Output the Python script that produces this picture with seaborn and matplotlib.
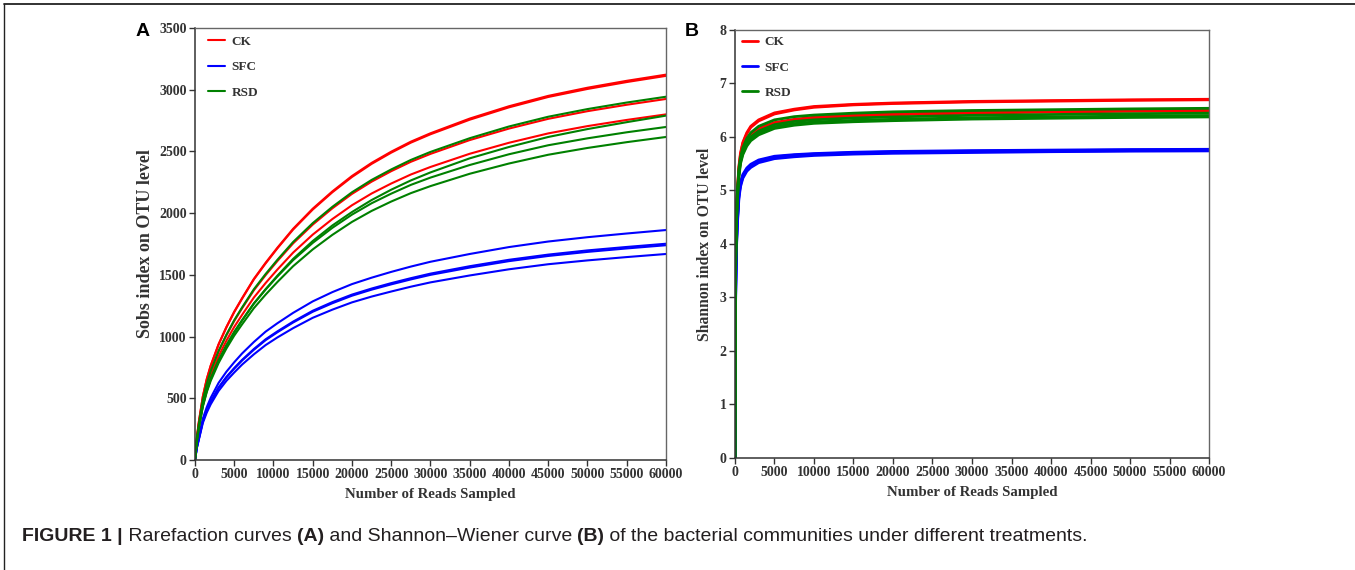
import numpy as np
import pandas as pd
import matplotlib
matplotlib.use("Agg")
import matplotlib.pyplot as plt
import seaborn as sns
from matplotlib.lines import Line2D

# ---------------- data ----------------
treatments = ["CK", "SFC", "RSD"]
colors = {"CK": "#FF0000", "SFC": "#0000FF", "RSD": "#008000"}

reads_a = [0, 250, 500, 1000, 1500, 2000, 3000, 4000, 5000, 6000, 7500, 9000, 10500, 12500, 15000,
           17500, 20000, 22500, 25000, 27500, 30000, 35000, 40000, 45000, 50000, 55000, 60000]
sobs_ck1 = [0, 187, 312, 515, 656, 765, 937, 1077, 1202, 1311, 1467, 1598, 1720, 1873, 2036,
            2176, 2301, 2407, 2498, 2579, 2647, 2766, 2866, 2950, 3016, 3072, 3122]
sobs_ck2 = [0, 187, 311, 513, 654, 762, 934, 1074, 1198, 1307, 1463, 1593, 1715, 1867, 2029,
            2169, 2293, 2399, 2490, 2571, 2639, 2757, 2857, 2941, 3006, 3062, 3112]
sobs_ck3 = [0, 176, 293, 483, 614, 717, 878, 1009, 1126, 1229, 1375, 1498, 1612, 1755, 1907,
            2039, 2156, 2255, 2340, 2416, 2480, 2592, 2685, 2764, 2826, 2878, 2925]
sobs_ck4 = [0, 168, 280, 462, 588, 686, 840, 966, 1078, 1176, 1316, 1434, 1543, 1680, 1826,
            1952, 2064, 2159, 2240, 2313, 2374, 2481, 2570, 2646, 2705, 2755, 2800]
sobs_sfc1 = [0, 112, 186, 335, 428, 503, 624, 715, 792, 863, 956, 1040, 1108, 1192, 1285,
             1360, 1425, 1477, 1524, 1567, 1606, 1669, 1725, 1770, 1805, 1835, 1863]
sobs_sfc2 = [0, 105, 175, 315, 403, 473, 587, 673, 745, 811, 899, 978, 1042, 1121, 1209,
             1279, 1340, 1389, 1433, 1473, 1510, 1570, 1622, 1664, 1698, 1726, 1752]
sobs_sfc3 = [0, 104, 174, 313, 400, 470, 583, 668, 740, 806, 893, 971, 1035, 1114, 1201,
             1270, 1331, 1380, 1423, 1463, 1500, 1559, 1611, 1653, 1686, 1714, 1740]
sobs_sfc4 = [0, 100, 167, 300, 384, 451, 559, 641, 709, 773, 856, 931, 993, 1068, 1152,
             1218, 1277, 1324, 1365, 1404, 1439, 1495, 1545, 1586, 1617, 1644, 1669]
sobs_rsd1 = [0, 177, 294, 486, 618, 721, 883, 1015, 1133, 1236, 1383, 1507, 1622, 1766, 1919,
             2051, 2169, 2269, 2354, 2431, 2496, 2607, 2702, 2781, 2843, 2896, 2943]
sobs_rsd2 = [0, 153, 265, 438, 558, 653, 801, 921, 1032, 1130, 1267, 1384, 1493, 1629, 1774,
             1900, 2009, 2106, 2190, 2265, 2330, 2444, 2536, 2617, 2681, 2737, 2790]
sobs_rsd3 = [0, 162, 270, 445, 567, 661, 809, 931, 1039, 1133, 1268, 1381, 1487, 1619, 1759,
             1881, 1988, 2080, 2158, 2229, 2288, 2390, 2477, 2550, 2606, 2655, 2698]
sobs_rsd4 = [0, 157, 262, 432, 550, 641, 785, 903, 1008, 1099, 1230, 1340, 1442, 1570, 1706,
             1824, 1929, 2018, 2094, 2162, 2219, 2319, 2402, 2473, 2528, 2575, 2617]

reads_b = [0, 50, 100, 200, 300, 500, 700, 1000, 1500, 2000, 3000, 5000, 7500, 10000, 15000,
           20000, 30000, 40000, 50000, 60000]
shan_ck1 = [0, 3.2, 3.9, 4.6, 5.0, 5.45, 5.7, 5.9, 6.08, 6.2, 6.32, 6.45, 6.52, 6.57, 6.61, 6.635, 6.665, 6.68, 6.695, 6.705]
shan_ck2 = [0, 3.15, 3.85, 4.55, 4.95, 5.42, 5.67, 5.88, 6.06, 6.18, 6.3, 6.43, 6.505, 6.555, 6.6, 6.625, 6.655, 6.67, 6.685, 6.695]
shan_ck3 = [0, 3.1, 3.8, 4.5, 4.9, 5.35, 5.58, 5.77, 5.93, 6.04, 6.16, 6.27, 6.33, 6.37, 6.41, 6.43, 6.46, 6.48, 6.495, 6.505]
shan_ck4 = [0, 3.05, 3.75, 4.45, 4.85, 5.32, 5.55, 5.74, 5.9, 6.01, 6.13, 6.25, 6.31, 6.35, 6.39, 6.415, 6.445, 6.465, 6.48, 6.49]
shan_sfc1 = [0, 2.6, 3.3, 4.1, 4.5, 4.95, 5.15, 5.3, 5.42, 5.49, 5.57, 5.64, 5.67, 5.69, 5.715, 5.73, 5.745, 5.755, 5.765, 5.77]
shan_sfc2 = [0, 2.55, 3.25, 4.05, 4.45, 4.92, 5.13, 5.28, 5.4, 5.47, 5.555, 5.625, 5.66, 5.68, 5.705, 5.72, 5.735, 5.745, 5.755, 5.76]
shan_sfc3 = [0, 2.5, 3.2, 4.0, 4.4, 4.9, 5.1, 5.26, 5.38, 5.45, 5.54, 5.61, 5.645, 5.67, 5.695, 5.71, 5.725, 5.735, 5.745, 5.75]
shan_sfc4 = [0, 2.45, 3.15, 3.95, 4.35, 4.85, 5.07, 5.23, 5.36, 5.43, 5.52, 5.595, 5.63, 5.655, 5.68, 5.695, 5.71, 5.725, 5.735, 5.74]
shan_rsd1 = [0, 3.1, 3.85, 4.55, 4.95, 5.4, 5.62, 5.8, 5.97, 6.08, 6.2, 6.32, 6.38, 6.41, 6.445, 6.47, 6.495, 6.51, 6.525, 6.536]
shan_rsd2 = [0, 3.0, 3.8, 4.5, 4.9, 5.35, 5.57, 5.74, 5.9, 6.0, 6.11, 6.23, 6.29, 6.32, 6.355, 6.375, 6.405, 6.42, 6.435, 6.445]
shan_rsd3 = [0, 3.0, 3.75, 4.45, 4.85, 5.3, 5.53, 5.7, 5.86, 5.96, 6.07, 6.19, 6.25, 6.28, 6.31, 6.33, 6.36, 6.375, 6.39, 6.40]
shan_rsd4 = [0, 2.95, 3.7, 4.4, 4.8, 5.25, 5.5, 5.67, 5.83, 5.93, 6.04, 6.16, 6.22, 6.255, 6.285, 6.305, 6.335, 6.35, 6.365, 6.375]

x_ticks = [0, 5000, 10000, 15000, 20000, 25000, 30000, 35000, 40000, 45000, 50000, 55000, 60000]
ya_ticks = [0, 500, 1000, 1500, 2000, 2500, 3000, 3500]
yb_ticks = [0, 1, 2, 3, 4, 5, 6, 7, 8]

xlabel = "Number of Reads Sampled"
ylabel_a = "Sobs index on OTU level"
ylabel_b = "Shannon index on OTU level"
caption_parts = [("FIGURE 1 |", "bold"), (" Rarefaction curves ", "normal"), ("(A)", "bold"),
                 (" and Shannon\u2013Wiener curve ", "normal"), ("(B)", "bold"),
                 (" of the bacterial communities under different treatments.", "normal")]


def long_df(reads, series):
    rows = []
    for (trt, rep), vals in series.items():
        for r, v in zip(reads, vals):
            rows.append({"reads": r, "value": v, "treatment": trt, "rep": f"{trt}{rep}"})
    return pd.DataFrame(rows)


dfA = long_df(reads_a, {
    ("CK", 1): sobs_ck1, ("CK", 2): sobs_ck2, ("CK", 3): sobs_ck3, ("CK", 4): sobs_ck4,
    ("SFC", 1): sobs_sfc1, ("SFC", 2): sobs_sfc2, ("SFC", 3): sobs_sfc3, ("SFC", 4): sobs_sfc4,
    ("RSD", 1): sobs_rsd1, ("RSD", 2): sobs_rsd2, ("RSD", 3): sobs_rsd3, ("RSD", 4): sobs_rsd4,
})
dfB = long_df(reads_b, {
    ("CK", 1): shan_ck1, ("CK", 2): shan_ck2, ("CK", 3): shan_ck3, ("CK", 4): shan_ck4,
    ("SFC", 1): shan_sfc1, ("SFC", 2): shan_sfc2, ("SFC", 3): shan_sfc3, ("SFC", 4): shan_sfc4,
    ("RSD", 1): shan_rsd1, ("RSD", 2): shan_rsd2, ("RSD", 3): shan_rsd3, ("RSD", 4): shan_rsd4,
})

# ---------------- style ----------------
sns.set_theme(style="white")
plt.rcParams["font.family"] = ["Liberation Serif", "DejaVu Serif"]
plt.rcParams["font.weight"] = "bold"
TXT = "#333333"

fig = plt.figure(figsize=(13.55, 5.70), dpi=100)
axA = fig.add_axes([0.1439, 0.193, 0.3476, 0.7579])
axB = fig.add_axes([0.5424, 0.1965, 0.3499, 0.7509])

LW_A, LW_B = 1.5, 2.0
sns.lineplot(data=dfA, x="reads", y="value", hue="treatment", units="rep", estimator=None,
             hue_order=treatments, palette=colors, lw=LW_A, sort=True, legend=False, ax=axA)
sns.lineplot(data=dfB, x="reads", y="value", hue="treatment", units="rep", estimator=None,
             hue_order=treatments, palette=colors, lw=LW_B, sort=True, legend=False, ax=axB)


def style_axes(ax, yticks, ylabel, ylim, ysize, ypad):
    ax.set_xlim(0, 60000)
    ax.set_ylim(*ylim)
    ax.set_xticks(x_ticks)
    ax.set_xticklabels([str(t) for t in x_ticks])
    ax.set_yticks(yticks)
    ax.set_yticklabels([str(t) for t in yticks])
    ax.tick_params(axis="both", which="major", direction="out", length=4, width=1,
                   color=TXT, labelsize=10, labelcolor=TXT, pad=2, bottom=True, left=True)
    for lab in ax.get_xticklabels() + ax.get_yticklabels():
        lab.set_fontweight("bold")
    for side in ["left", "bottom"]:
        ax.spines[side].set_color("#333333")
        ax.spines[side].set_linewidth(1.1)
    for side in ["top", "right"]:
        ax.spines[side].set_color("#666666")
        ax.spines[side].set_linewidth(1.0)
    ax.set_xlabel(xlabel, fontsize=10.7, fontweight="bold", color=TXT, labelpad=5)
    ax.set_ylabel(ylabel, fontsize=ysize, fontweight="bold", color=TXT, labelpad=ypad)


style_axes(axA, ya_ticks, ylabel_a, (0, 3500), 13.0, 3.5)
style_axes(axB, yb_ticks, ylabel_b, (0, 8), 11.3, 4.5)

for ax, lw, anchor in [(axA, LW_A, (0.028, 0.982)), (axB, LW_B, (0.014, 0.986))]:
    handles = [Line2D([0], [0], color=colors[t], lw=lw) for t in treatments]
    ax.legend(handles, treatments, loc="upper left", bbox_to_anchor=anchor, frameon=False,
              prop={"family": "Liberation Serif", "weight": "bold", "size": 9.5},
              handlelength=1.25, handletextpad=0.5, labelspacing=1.0,
              borderpad=0, borderaxespad=0, labelcolor=TXT)

# panel letters
fig.text(143 / 1355, 1 - 32 / 570, "A", fontsize=14, fontweight="bold",
         family="Liberation Sans", ha="center", va="center", color="black")
fig.text(692 / 1355, 1 - 32 / 570, "B", fontsize=14, fontweight="bold",
         family="Liberation Sans", ha="center", va="center", color="black")

# outer frame (top and left)
fig.add_artist(Line2D([0.003, 1.0], [1 - 4 / 570, 1 - 4 / 570], transform=fig.transFigure,
                      color="#222222", lw=1.3))
fig.add_artist(Line2D([0.003, 0.003], [1 - 4 / 570, 0.0], transform=fig.transFigure,
                      color="#222222", lw=1.0))

# caption with mixed weights
renderer = fig.canvas.get_renderer()


def advance(s, weight, size):
    t1 = fig.text(0, 0, "|" + s + "|", fontsize=size, fontweight=weight, family="Liberation Sans")
    t2 = fig.text(0, 0, "||", fontsize=size, fontweight=weight, family="Liberation Sans")
    w = t1.get_window_extent(renderer).width - t2.get_window_extent(renderer).width
    t1.remove()
    t2.remove()
    return w


cap_size = 14
x_px = 22.0
y_fig = 1 - 541 / 570
for s, w in caption_parts:
    fig.text(x_px / 1355, y_fig, s, fontsize=cap_size, fontweight=w, family="Liberation Sans",
             ha="left", va="baseline", color="#231F20")
    x_px += advance(s, w, cap_size)

fig.savefig("out.png", dpi=100, facecolor="white")
